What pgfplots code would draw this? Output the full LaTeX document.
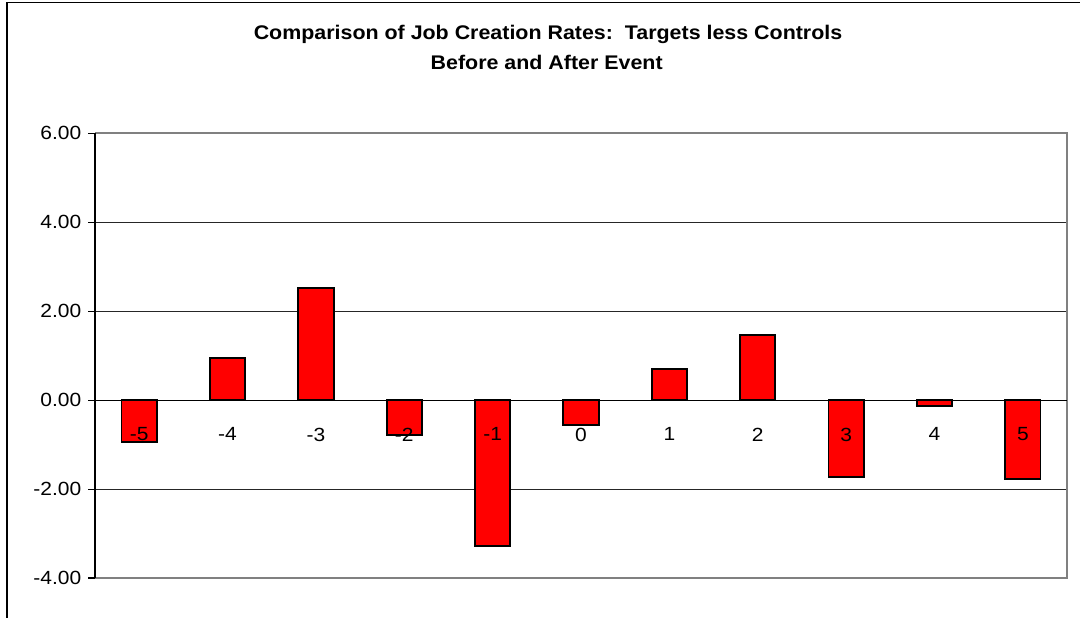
\documentclass[border=0pt]{standalone}
\usepackage{fontspec}
\setmainfont{Liberation Sans}
\newfontfamily\tickfont[FakeStretch=1.1]{Liberation Sans}
\newfontfamily\titlefont[FakeStretch=1.085]{Liberation Sans}
\usepackage{pgfplots}
\pgfplotsset{compat=1.18}
\begin{document}
\begin{tikzpicture}
\useasboundingbox (0,0) rectangle (810pt,462.75pt);
\draw[line width=1.1pt] (5.25pt,-5pt) -- (5.25pt,460.9pt) -- (815pt,460.9pt);
\node[anchor=base,font=\titlefont\fontsize{14.8}{16}\selectfont\bfseries,inner sep=0pt] at (411pt,432.75pt) {Comparison of Job Creation Rates:\ \ Targets less Controls};
\node[anchor=base,font=\titlefont\fontsize{14.8}{16}\selectfont\bfseries,inner sep=0pt] at (410pt,410.6pt) {Before and After Event};
\begin{axis}[
  axis on top,
  at={(71.25pt,29.25pt)}, anchor=south west,
  scale only axis, width=729pt, height=333.5pt,
  xmin=-0.5, xmax=10.5, ymin=-4, ymax=6,
  axis x line=middle, axis y line=left,
  axis line style={-, black, line width=0.9pt},
  tick align=outside,
  xtick={0,...,10},
  xticklabels={-5,-4,-3,-2,-1,0,1,2,3,4,5},
  x tick style={draw=none},
  minor xtick={0.5,1.5,...,9.5},
  minor x tick style={black, line width=0.8pt},
  minor tick length=4.5pt,
  major tick length=5.25pt,
  ytick={-4,-2,0,2,4,6},
  yticklabels={-4.00,-2.00,0.00,2.00,4.00,6.00},
  y tick style={black, line width=0.8pt},
  ticklabel style={font=\tickfont\fontsize{14.3}{16}\selectfont},
  xticklabel style={yshift=-12pt},
  yticklabel style={xshift=-1.5pt},
  clip=false,
]
\draw[black!85, line width=0.7pt] (axis cs:-0.5,2) -- (axis cs:10.5,2);
\draw[black!85, line width=0.7pt] (axis cs:-0.5,4) -- (axis cs:10.5,4);
\draw[black!85, line width=0.7pt] (axis cs:-0.5,-2) -- (axis cs:10.5,-2);
\draw[gray, line width=1.5pt] (axis cs:-0.5,-4) -- (axis cs:10.5,-4) -- (axis cs:10.5,6) -- (axis cs:-0.5,6);
\addplot[ybar, bar width=26.5pt, fill=red, draw=black, line width=1.4pt] coordinates {
(0,-0.95) (1,0.94) (2,2.52) (3,-0.78) (4,-3.29) (5,-0.55) (6,0.70) (7,1.47) (8,-1.72) (9,-0.13) (10,-1.78)
};
\end{axis}
\end{tikzpicture}
\end{document}
